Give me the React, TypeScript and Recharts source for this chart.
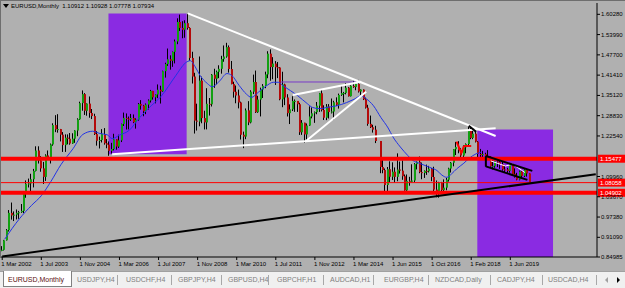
import React from 'react';
import {
  ComposedChart,
  Bar,
  Line,
  XAxis,
  YAxis,
  ReferenceLine,
  ReferenceArea,
} from 'recharts';

const FONT = '"Liberation Sans", Arial, sans-serif';
const BG = '#b0b0b0';
const GREEN = '#12a012';
const RED = '#b40a0a';

// EURUSD monthly, Mar 2002 .. Feb 2020 (null = empty slot on the terminal's time scale)
const firstOpen = 0.87;
const closes = [
  0.8721, 0.9016, 0.9332, 0.9868, 0.9787, 0.9811, 0.9869, 0.9886, 0.9929, 1.0487,
  1.077, 1.078, 1.091, 1.117, 1.1802, 1.1495, 1.1248, 1.0984, 1.165, 1.1584, 1.199, 1.2592,
  1.2455, 1.2467, 1.2293, 1.197, 1.2201, 1.2167, 1.202, 1.2169, 1.2422, 1.2771, 1.3273, 1.3552,
  1.3034, 1.3258, 1.2965, 1.2871, 1.2311, 1.2104, 1.2128, 1.2313, 1.2026, 1.1984, 1.1792, 1.1849,
  1.215, 1.1925, 1.2118, 1.2626, 1.2814, 1.2792, 1.2767, 1.2812, 1.2679, 1.276, 1.3243, 1.3196,
  1.302, 1.3228, 1.3355, 1.3652, 1.3453, 1.354, 1.3688, 1.3637, 1.4264, 1.4485, 1.4633, 1.4587,
  1.4863, 1.5187, 1.579, 1.5605, 1.5551, 1.5753, 1.5605, 1.4674, 1.4097, 1.273, 1.27, 1.3971,
  1.2808, 1.2674, 1.3251, 1.3236, 1.4155, 1.403, 1.4244, 1.4336, 1.4639, 1.4718, 1.5008, 1.433,
  1.3864, 1.3625, 1.351, 1.3293, 1.2291, 1.2234, 1.3048, 1.2673, 1.3628, 1.3927, 1.2991, 1.3384,
  1.3697, 1.3808, 1.4164, 1.4807, 1.4391, 1.45, 1.4386, 1.4377, 1.3389, 1.3852, 1.3447, 1.2961,
  1.3081, 1.3339, 1.3342, 1.3238, 1.2368, 1.2664, 1.2302, 1.2577, 1.2859, 1.2956, 1.2993, 1.3193,
  1.3578, 1.3058, 1.2819, 1.3166, 1.2997, 1.3011, 1.3299, 1.3222, 1.3526, 1.3583, 1.3589, 1.3752,
  1.3486, 1.3807, 1.3771, 1.3868, 1.3634, 1.3692, 1.3389, 1.3131, 1.2628, 1.2524, 1.245, 1.2098, null,
  1.129, 1.1196, 1.0731, 1.1222, 1.0988, 1.1145, 1.0985, 1.1212, 1.1177, 1.1004, 1.0565, 1.0862,
  1.0832, 1.0872, 1.138, 1.1453, 1.1131, 1.1104, 1.1172, 1.1159, 1.124, 1.0981, 1.0589, 1.052,
  1.0798, 1.0575, 1.065, 1.0896, 1.1243, 1.1424, 1.1843, 1.191, 1.1812, 1.1646, 1.1902, 1.2004,
  1.2413, 1.2193, 1.2324, 1.2076, 1.1694, 1.1684, 1.1691, 1.16, 1.1604, 1.1313, 1.1317, 1.1467,
  1.1448, 1.1372, 1.1217, 1.1215, 1.1168, 1.1372, 1.1076, 1.0985, 1.0899, 1.1152, 1.1017, 1.1213,
  1.1091, 1.07934,
];
const highs = [
  0.8836, 0.9029, 0.9365, 0.9955, 1.0188, 0.9913, 0.9973, 0.993, 1.0143, 1.0501,
  1.0874, 1.0932, 1.1081, 1.1232, 1.1933, 1.1933, 1.1627, 1.1449, 1.1686, 1.1803, 1.2019, 1.2647,
  1.2899, 1.293, 1.2472, 1.2375, 1.2304, 1.2302, 1.2345, 1.2338, 1.2433, 1.2803, 1.3317, 1.3667,
  1.3584, 1.3265, 1.3479, 1.309, 1.2943, 1.2405, 1.2233, 1.2466, 1.2498, 1.2159, 1.2084, 1.204,
  1.2322, 1.2152, 1.2293, 1.2637, 1.2979, 1.2953, 1.2856, 1.2938, 1.2921, 1.28, 1.3276, 1.3366,
  1.3218, 1.3262, 1.339, 1.3682, 1.3651, 1.3545, 1.3852, 1.3812, 1.428, 1.4526, 1.4967, 1.4755,
  1.4875, 1.5245, 1.5904, 1.6019, 1.5815, 1.5843, 1.6038, 1.5628, 1.4867, 1.4214, 1.3255, 1.4719,
  1.4095, 1.3037, 1.3736, 1.3431, 1.4175, 1.4339, 1.4283, 1.4447, 1.4741, 1.5062, 1.5144, 1.5063,
  1.458, 1.3937, 1.3819, 1.3693, 1.3318, 1.2389, 1.3107, 1.3334, 1.3672, 1.4157, 1.4283, 1.35,
  1.3753, 1.3863, 1.4249, 1.4883, 1.494, 1.4699, 1.4578, 1.4549, 1.4391, 1.4247, 1.3875, 1.3549,
  1.3234, 1.3487, 1.3386, 1.3283, 1.3284, 1.2747, 1.2664, 1.2641, 1.3172, 1.314, 1.3014, 1.3308,
  1.3588, 1.3711, 1.3206, 1.3243, 1.3242, 1.3416, 1.3345, 1.3452, 1.3568, 1.3832, 1.3621, 1.3893,
  1.3774, 1.3825, 1.3967, 1.3906, 1.3993, 1.37, 1.37, 1.3444, 1.3221, 1.2887, 1.2601, 1.257, null,
  1.2098, 1.1534, 1.1245, 1.1291, 1.1467, 1.1436, 1.1278, 1.1714, 1.146, 1.1495, 1.1059, 1.1059,
  1.0986, 1.1376, 1.1412, 1.1464, 1.1616, 1.1428, 1.1186, 1.1366, 1.1327, 1.1259, 1.1299, 1.0874,
  1.083, 1.0829, 1.0906, 1.0954, 1.1268, 1.1446, 1.1847, 1.207, 1.2092, 1.188, 1.1961, 1.2023,
  1.2537, 1.2555, 1.2476, 1.2414, 1.2096, 1.1852, 1.1791, 1.1733, 1.1815, 1.1625, 1.15, 1.1486,
  1.157, 1.1489, 1.1448, 1.1324, 1.1265, 1.1412, 1.1286, 1.1249, 1.111, 1.1179, 1.1176, 1.124,
  1.1239, 1.10928,
];
const lows = [
  0.8679, 0.87, 0.9008, 0.9288, 0.9658, 0.9614, 0.9664, 0.9683, 0.9867, 0.986,
  1.0337, 1.0656, 1.0502, 1.0658, 1.1153, 1.1399, 1.1144, 1.0765, 1.086, 1.153, 1.14, 1.195,
  1.2373, 1.2356, 1.2084, 1.1759, 1.176, 1.1994, 1.1983, 1.2008, 1.204, 1.2247, 1.2754, 1.3038,
  1.2906, 1.2882, 1.282, 1.2778, 1.2284, 1.1954, 1.1866, 1.2052, 1.1985, 1.1873, 1.1639, 1.1709,
  1.1804, 1.1827, 1.188, 1.2065, 1.2563, 1.2454, 1.2457, 1.272, 1.2652, 1.2482, 1.2728, 1.3072,
  1.2866, 1.293, 1.3075, 1.3292, 1.3382, 1.3266, 1.3427, 1.326, 1.3621, 1.4065, 1.4427, 1.4311,
  1.4399, 1.4505, 1.5101, 1.5512, 1.5286, 1.5302, 1.5552, 1.4587, 1.3881, 1.2329, 1.2422, 1.2554,
  1.2648, 1.2456, 1.2458, 1.2887, 1.3168, 1.3747, 1.3854, 1.4047, 1.4187, 1.4556, 1.4683, 1.422,
  1.3856, 1.3443, 1.3268, 1.311, 1.2144, 1.1876, 1.2154, 1.2589, 1.2645, 1.3554, 1.2967, 1.297,
  1.286, 1.3432, 1.3736, 1.4046, 1.3967, 1.4014, 1.3837, 1.4049, 1.3362, 1.3146, 1.3211, 1.2858,
  1.2624, 1.3027, 1.3003, 1.3001, 1.2286, 1.2288, 1.2043, 1.2134, 1.2563, 1.2801, 1.2661, 1.2928,
  1.3, 1.3014, 1.275, 1.2745, 1.2796, 1.2952, 1.2755, 1.3189, 1.3103, 1.3497, 1.3295, 1.3545,
  1.3477, 1.3478, 1.3749, 1.3673, 1.36, 1.3503, 1.3368, 1.3105, 1.2571, 1.2501, 1.2358, 1.2033, null,
  1.1098, 1.1097, 1.0458, 1.0519, 1.0819, 1.0887, 1.0809, 1.085, 1.1087, 1.0894, 1.0556, 1.0524,
  1.071, 1.081, 1.0822, 1.1215, 1.1098, 1.0912, 1.0952, 1.1046, 1.1122, 1.0851, 1.0518, 1.0352,
  1.034, 1.0494, 1.0494, 1.0569, 1.0839, 1.1119, 1.1312, 1.1662, 1.1717, 1.1574, 1.1554, 1.1717,
  1.1915, 1.2153, 1.2155, 1.2053, 1.151, 1.1508, 1.1577, 1.1301, 1.1526, 1.1302, 1.1216, 1.1268,
  1.1289, 1.1234, 1.1176, 1.111, 1.1107, 1.1116, 1.1027, 1.0963, 1.0879, 1.0879, 1.0981, 1.0981,
  1.0992, 1.07778,
];

// moving average: [slot, price]
const maPoints: [number, number][] = [
  [1, 0.905], [7, 0.968], [12, 1.01], [16, 1.04], [20, 1.085], [24, 1.136], [29, 1.186],
  [33, 1.23], [37, 1.24], [40, 1.233], [43, 1.229], [45, 1.217], [48, 1.228], [52, 1.243],
  [56, 1.28], [60, 1.312], [65, 1.348], [71, 1.412], [75, 1.452], [77, 1.459], [79, 1.44],
  [81, 1.413], [84, 1.388], [86, 1.378], [89, 1.396], [92, 1.419], [94, 1.413], [97, 1.382],
  [100, 1.355], [102, 1.345], [105, 1.362], [108, 1.38], [111, 1.392], [113, 1.392],
  [115, 1.381], [118, 1.366], [121, 1.35], [125, 1.325], [127, 1.314], [130, 1.31],
  [133, 1.314], [137, 1.319], [141, 1.329], [144, 1.339], [147, 1.35], [149, 1.341],
  [152, 1.319], [155, 1.283], [158, 1.25], [160, 1.222], [163, 1.191], [166, 1.165],
  [168, 1.15], [171, 1.14], [175, 1.128], [178, 1.118], [180, 1.104], [182, 1.097],
  [184, 1.108], [186, 1.123], [189, 1.141], [191, 1.155], [194, 1.17], [196, 1.175],
];

const timeLabels = [
  '1 Mar 2002', '1 Jul 2003', '1 Nov 2004', '1 Mar 2006', '1 Jul 2007', '1 Nov 2008',
  '1 Mar 2010', '1 Jul 2011', '1 Nov 2012', '1 Mar 2014', '1 Jun 2015', '1 Oct 2016',
  '1 Feb 2018', '1 Jun 2019',
];
const priceTicks = [
  0.84985, 0.9109, 0.9738, 1.0367, 1.0996, 1.2254, 1.2883, 1.3512, 1.4141, 1.477, 1.5399, 1.6028,
];

// objects drawn on the chart: [slot, price]
const purpleBoxes = [
  { x1: 44, x2: 75, y1: 1.1685, y2: 1.605 },
  { x1: 195, x2: 225, y1: 0.84985, y2: 1.2451 },
];
const whiteLines: [number, number][][] = [
  [[76, 1.6059], [202, 1.2253]],
  [[45, 1.1685], [202, 1.2491]],
  [[119, 1.3524], [147, 1.3937]],
  [[124, 1.2076], [149, 1.3627]],
];
const whiteThin: [number, number][][] = [
  [[200, 1.148], [206, 1.132]],
  [[206, 1.132], [209, 1.138]],
  [[209, 1.138], [214, 1.112]],
];
const blackLines: [number, number][][] = [
  [[0, 0.8517], [243, 1.1067]],
  [[198, 1.163], [217, 1.117]],
  [[198, 1.131], [215, 1.089]],
  [[198, 1.163], [198, 1.131]],
  [[191, 1.2572], [194, 1.2386]],
];
const redMarks: [number, number][][] = [
  [[186, 1.2075], [188, 1.1717]],
  [[188, 1.1717], [189, 1.1942]],
  [[189, 1.1942], [192, 1.1942]],
];
const violetLine: [number, number][] = [[114, 1.3928], [145, 1.3928]];
const thickLevels = [1.15477, 1.04902];
const thinLevels = [1.08058];

const tabs = [
  'EURUSD,Monthly', 'USDJPY,H4', 'USDCHF,H4', 'GBPJPY,H4', 'GBPUSD,H4', 'GBPCHF,H1',
  'AUDCAD,H1', 'EURGBP,H4', 'NZDCAD,Daily', 'CADJPY,H4', 'USDCAD,H4',
];
const tabLeft = [8, 77, 126, 178, 228, 277, 330, 384, 435, 497, 548];
const tabSeps = [117, 171, 221, 268, 323, 373, 428, 490, 542, 596];

const SLOTS = 244;
const TICK_STEP = 16;

const maBySlot = new Map(maPoints);
const data: any[] = [];
let prevClose = firstOpen;
for (let i = 0; i < SLOTS; i++) {
  const row: any = { i, ma: maBySlot.has(i) ? maBySlot.get(i) : null };
  const c = closes[i];
  if (c != null) {
    row.range = [lows[i], highs[i]];
    row.open = prevClose;
    row.close = c;
    prevClose = c;
  }
  data.push(row);
}
const timeTicks = timeLabels.map((_, k) => k * TICK_STEP);

const Candle = (props: any) => {
  const { x, y, width, height, payload } = props;
  if (!payload || !payload.range) return <g />;
  const [lo, hi] = payload.range;
  const top = Math.min(y, y + height);
  const span = Math.abs(height);
  const yAt = (v: number) => top + ((hi - v) / (hi - lo)) * span;
  const cx = Math.round(x + width / 2);
  const yo = yAt(payload.open);
  const yc = yAt(payload.close);
  const up = payload.close >= payload.open;
  return (
    <g>
      <rect x={cx - 1} y={top} width={1} height={Math.max(1, span)} fill="#000" />
      <rect
        x={cx - 1}
        y={Math.min(yo, yc)}
        width={2}
        height={Math.max(1, Math.abs(yc - yo))}
        fill={up ? GREEN : RED}
      />
    </g>
  );
};

const TimeTick = (props: any) => {
  const { x, y, payload } = props;
  const label = timeLabels[Math.round(payload.value / TICK_STEP)];
  return (
    <g>
      <line x1={x} y1={y} x2={x} y2={y + 3} stroke="#000" />
      <text x={x - 1} y={y + 9} fontSize={6} fill="#000" style={{ fontFamily: FONT }}>
        {label}
      </text>
    </g>
  );
};

const PriceTick = (props: any) => {
  const { x, y, payload } = props;
  return (
    <text x={x} y={y + 2} fontSize={6} fill="#000" style={{ fontFamily: FONT }}>
      {Number(payload.value).toFixed(5)}
    </text>
  );
};

const priceTag = (value: number) => (props: any) => {
  const { viewBox } = props;
  if (!viewBox) return null;
  const left = viewBox.x + viewBox.width + 1;
  return (
    <g>
      <rect x={left} y={viewBox.y - 4} width={27} height={8} fill="#ff0000" />
      <text x={left + 2} y={viewBox.y + 2} fontSize={6} fill="#fff" style={{ fontFamily: FONT }}>
        {value.toFixed(5)}
      </text>
    </g>
  );
};

const seg = (l: [number, number][]) => l.map(([x, y]) => ({ x, y }));

export default function App() {
  return (
    <div
      style={{
        position: 'absolute',
        left: 0,
        top: 0,
        width: 625,
        height: 288,
        background: BG,
        overflow: 'hidden',
        fontFamily: FONT,
      }}
    >
      <ComposedChart
        width={625}
        height={288}
        data={data}
        margin={{ top: 3, right: 0, bottom: 0, left: 1 }}
        barCategoryGap={0}
      >
        <XAxis
          dataKey="i"
          type="category"
          height={31}
          ticks={timeTicks}
          interval={0}
          tick={<TimeTick />}
          tickLine={false}
          tickSize={0}
          tickMargin={0}
          axisLine={{ stroke: '#000' }}
        />
        <YAxis
          orientation="right"
          width={28}
          domain={[0.84985, 1.6379]}
          allowDataOverflow
          ticks={priceTicks}
          interval={0}
          tick={<PriceTick />}
          tickSize={3}
          tickMargin={1}
          tickLine={{ stroke: '#000' }}
          axisLine={{ stroke: '#000' }}
        />
        {purpleBoxes.map((b, k) => (
          <ReferenceArea
            key={'box' + k}
            x1={b.x1}
            x2={b.x2}
            y1={b.y1}
            y2={b.y2}
            fill="#8a2be2"
            fillOpacity={1}
            stroke="none"
            ifOverflow="visible"
          />
        ))}
        <Bar dataKey="range" shape={(p: any) => <Candle {...p} />} isAnimationActive={false} />
        <Line
          dataKey="ma"
          type="monotone"
          stroke="#2233e6"
          strokeWidth={1}
          dot={false}
          connectNulls
          isAnimationActive={false}
        />
        {thickLevels.map((v) => (
          <ReferenceLine key={'lv' + v} y={v} stroke="#ff0000" strokeWidth={4} label={priceTag(v)} />
        ))}
        {thinLevels.map((v) => (
          <ReferenceLine key={'tl' + v} y={v} stroke="#ff0000" strokeWidth={1} label={priceTag(v)} />
        ))}
        <ReferenceLine segment={seg(violetLine)} stroke="#7a3cc8" strokeWidth={1} ifOverflow="visible" />
        {redMarks.map((l, k) => (
          <ReferenceLine key={'r' + k} segment={seg(l)} stroke="#ff0000" strokeWidth={2} ifOverflow="visible" />
        ))}
        {whiteLines.map((l, k) => (
          <ReferenceLine key={'w' + k} segment={seg(l)} stroke="#ffffff" strokeWidth={2} ifOverflow="visible" />
        ))}
        {whiteThin.map((l, k) => (
          <ReferenceLine key={'wt' + k} segment={seg(l)} stroke="#ffffff" strokeWidth={1} ifOverflow="visible" />
        ))}
        {blackLines.map((l, k) => (
          <ReferenceLine key={'b' + k} segment={seg(l)} stroke="#000000" strokeWidth={2} ifOverflow="visible" />
        ))}
      </ComposedChart>

      <div style={{ position: 'absolute', left: 0, top: 0, width: 625, height: 1, background: '#6e6e6e' }} />
      <div style={{ position: 'absolute', left: 0, top: 0, width: 1, height: 258, background: '#6e6e6e' }} />
      <svg style={{ position: 'absolute', left: 3, top: 4 }} width={6} height={5}>
        <polygon points="0,0 6,0 3,4" fill="#000" />
      </svg>
      <div
        style={{
          position: 'absolute',
          left: 11,
          top: 2,
          fontSize: 6,
          lineHeight: '8px',
          color: '#000',
          whiteSpace: 'pre',
        }}
      >
        {'EURUSD,Monthly  1.10912 1.10928 1.07778 1.07934'}
      </div>

      <div
        style={{
          position: 'absolute',
          left: 0,
          top: 271,
          width: 625,
          height: 17,
          background: '#f0f0f0',
          borderTop: '1px solid #a0a0a0',
          fontSize: 7,
        }}
      >
        <div
          style={{
            position: 'absolute',
            left: 3,
            top: -1,
            width: 67,
            height: 15,
            background: '#ffffff',
            border: '1px solid #808080',
            borderTop: 'none',
          }}
        />
        {tabs.map((t, k) => (
          <div
            key={t}
            style={{
              position: 'absolute',
              left: tabLeft[k],
              top: 3,
              lineHeight: '9px',
              color: k === 0 ? '#5a1010' : '#808080',
              whiteSpace: 'pre',
            }}
          >
            {t}
          </div>
        ))}
        {tabSeps.map((s) => (
          <div key={s} style={{ position: 'absolute', left: s, top: 3, width: 1, height: 10, background: '#a8a8a8' }} />
        ))}
        <svg style={{ position: 'absolute', left: 604, top: 4 }} width={18} height={8}>
          <polygon points="4,1 4,7 1,4" fill="#a0a0a0" />
          <polygon points="13,1 13,7 16,4" fill="#000" />
        </svg>
      </div>
    </div>
  );
}
